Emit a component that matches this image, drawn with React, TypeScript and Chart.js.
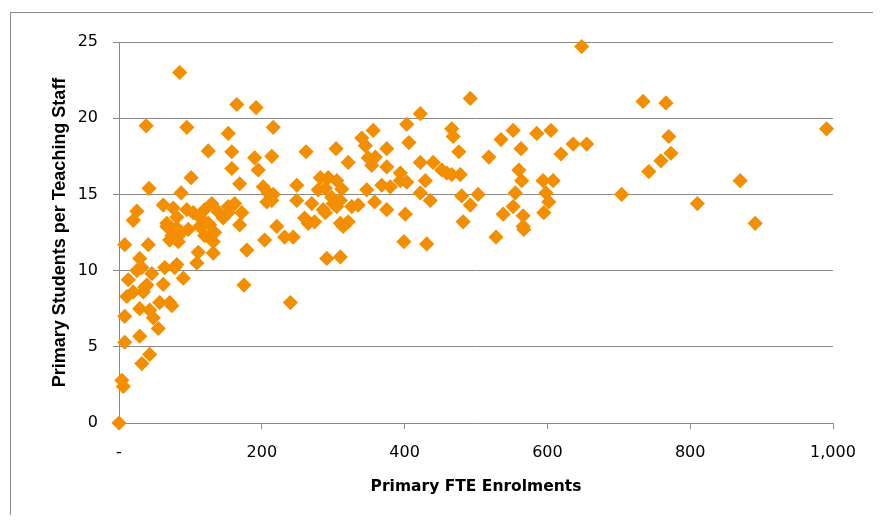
import React, { useEffect, useRef } from "react";
import { Chart, registerables } from "chart.js";

Chart.register(...registerables);

// Primary FTE enrolments (x) and primary students per teaching staff (y)
const enrolments: number[] = [
  0, 4, 6, 8, 29, 32, 43, 8, 29, 43, 48, 55, 57, 71, 74, 11, 20, 34, 36, 39,
  13, 25, 32, 29, 46, 62, 64, 78, 81, 90, 8, 41, 20, 25, 38, 42, 87, 85, 95, 101,
  62, 76, 81, 95, 67, 74, 83, 88, 97, 104, 113, 120, 130, 139, 146, 153, 125, 134, 120, 132,
  111, 109, 132, 67, 81, 113, 127, 71, 125, 153, 158, 158, 165, 192, 216, 190, 195, 214, 169, 162,
  172, 153, 169, 179, 175,
  202, 209, 216, 207, 214, 221, 204, 232, 244, 240, 249, 249, 262, 270, 260, 274, 265, 282, 293, 305,
  279, 289, 298, 310, 305, 326, 286, 300, 289, 314, 321, 310, 335, 347, 304, 321, 340, 345, 356, 349,
  359, 354, 291, 310, 312,
  375, 375, 368, 380, 394, 403, 358, 375, 401, 399, 431, 403, 422, 492, 406, 466, 468, 476, 422, 440,
  452, 459, 478, 429, 394, 422, 436, 480, 503, 492, 482, 466, 518,
  648, 734, 766, 770, 759, 773, 742, 704, 552, 535, 585, 605, 563, 636, 655, 619, 560, 564, 594, 608,
  555, 598, 552, 602, 538, 566, 595, 566, 567, 528, 991, 870, 810, 891,
];

const studentsPerStaff: number[] = [
  0, 2.8, 2.4, 5.3, 5.7, 3.9, 4.5, 7.0, 7.5, 7.4, 6.9, 6.2, 7.9, 7.9, 7.7, 8.3, 8.6, 8.6, 8.9, 9.05,
  9.4, 10.0, 10.2, 10.8, 9.8, 9.1, 10.2, 10.2, 10.4, 9.5, 11.7, 11.7, 13.3, 13.9, 19.5, 15.4, 15.1, 23.0, 19.4, 16.1,
  14.3, 14.1, 13.5, 14.0, 13.1, 12.3, 11.9, 12.5, 12.7, 13.8, 13.5, 14.0, 14.4, 13.85, 13.45, 14.2, 13.1, 12.5, 12.3, 11.9,
  11.2, 10.5, 11.15, 12.9, 12.8, 12.9, 13.0, 12.0, 17.85, 19.0, 17.8, 16.7, 20.9, 20.7, 19.4, 17.4, 16.6, 17.5, 15.7, 14.4,
  13.8, 13.8, 13.0, 11.35, 9.05,
  15.5, 15.1, 15.0, 14.5, 14.6, 12.9, 12.0, 12.2, 12.2, 7.9, 15.6, 14.6, 17.8, 14.4, 13.45, 13.2, 13.1, 16.1, 16.1, 15.9,
  15.3, 15.4, 14.8, 14.6, 14.2, 14.2, 14.0, 14.4, 13.8, 12.9, 13.2, 13.1, 14.3, 15.3, 18.0, 17.1, 18.7, 18.2, 19.2, 17.4,
  17.45, 16.9, 10.8, 10.9, 15.35,
  18.0, 16.8, 15.6, 15.5, 15.9, 15.8, 14.5, 14.0, 13.7, 11.9, 11.75, 19.6, 20.3, 21.3, 18.4, 19.3, 18.8, 17.8, 17.1, 17.1,
  16.6, 16.4, 16.3, 15.9, 16.4, 15.1, 14.6, 14.9, 15.0, 14.3, 13.2, 16.3, 17.45,
  24.7, 21.1, 21.0, 18.8, 17.2, 17.7, 16.5, 15.0, 19.2, 18.6, 19.0, 19.2, 18.0, 18.3, 18.3, 17.65, 16.6, 15.9, 15.9, 15.9,
  15.1, 15.1, 14.2, 14.5, 13.7, 13.6, 13.8, 12.9, 12.7, 12.2, 19.3, 15.9, 14.4, 13.1,
];

const xTickValues: number[] = [0, 200, 400, 600, 800, 1000];
const xTickLabels: string[] = ["-", "200", "400", "600", "800", "1,000"];
const yTickValues: number[] = [0, 5, 10, 15, 20, 25];

const xTitle = "Primary FTE Enrolments";
const yTitle = "Primary Students per Teaching Staff";

const ORANGE = "#F28E00";
const GRID = "#8a8a8a";
const TICK_FONT = "'DejaVu Sans', sans-serif";

export default function App() {
  const canvasRef = useRef<HTMLCanvasElement | null>(null);

  useEffect(() => {
    const canvas = canvasRef.current;
    if (!canvas) return;
    const points = enrolments.map((x, i) => ({ x, y: studentsPerStaff[i] }));
    const chart = new Chart(canvas, {
      type: "scatter",
      data: {
        datasets: [
          {
            data: points,
            pointStyle: "rectRot",
            pointRadius: 7.6,
            pointHoverRadius: 7.6,
            backgroundColor: ORANGE,
            borderColor: ORANGE,
            borderWidth: 0,
            clip: false,
          },
        ],
      },
      options: {
        animation: false,
        responsive: false,
        events: [],
        layout: { padding: { left: 0, right: 40, top: 29, bottom: 0 } },
        plugins: {
          legend: { display: false },
          tooltip: { enabled: false },
        },
        scales: {
          x: {
            type: "linear",
            min: 0,
            max: 1000,
            afterFit: (scale: any) => {
              scale.height = 92;
            },
            afterBuildTicks: (scale: any) => {
              scale.ticks = xTickValues.map((v) => ({ value: v }));
            },
            ticks: {
              padding: 14,
              color: "#000",
              font: { family: TICK_FONT, size: 16 },
              maxRotation: 0,
              callback: (v: any) => {
                const i = xTickValues.indexOf(Number(v));
                return i >= 0 ? xTickLabels[i] : "";
              },
            },
            grid: {
              display: true,
              drawOnChartArea: false,
              drawTicks: true,
              tickLength: 6,
              color: GRID,
              lineWidth: 1,
            },
            border: { display: true, color: GRID, width: 1 },
            title: {
              display: true,
              text: xTitle,
              color: "#000",
              font: { family: TICK_FONT, size: 15.5, weight: "bold" },
              padding: { top: 0, bottom: 19 },
            },
          },
          y: {
            type: "linear",
            min: 0,
            max: 25,
            afterFit: (scale: any) => {
              scale.width = 108;
            },
            afterBuildTicks: (scale: any) => {
              scale.ticks = yTickValues.map((v) => ({ value: v }));
            },
            ticks: {
              padding: 15,
              color: "#000",
              font: { family: TICK_FONT, size: 16 },
            },
            grid: {
              display: true,
              drawOnChartArea: true,
              drawTicks: true,
              tickLength: 6,
              color: GRID,
              lineWidth: 1,
            },
            border: { display: true, color: GRID, width: 1 },
            title: {
              display: true,
              text: yTitle,
              color: "#000",
              font: { family: "'Liberation Sans', sans-serif", size: 18, weight: "bold" },
              padding: { top: 38, bottom: 0 },
            },
          },
        },
      },
    });
    return () => chart.destroy();
  }, []);

  return (
    <div style={{ paddingTop: 4, paddingLeft: 2 }}>
      <div
        style={{
          borderLeft: "1px solid #8e8e8e",
          borderTop: "1px solid #8e8e8e",
          width: 862,
          height: 502,
          overflow: "hidden",
        }}
      >
        <canvas ref={canvasRef} width={862} height={502} style={{ display: "block" }} />
      </div>
    </div>
  );
}
